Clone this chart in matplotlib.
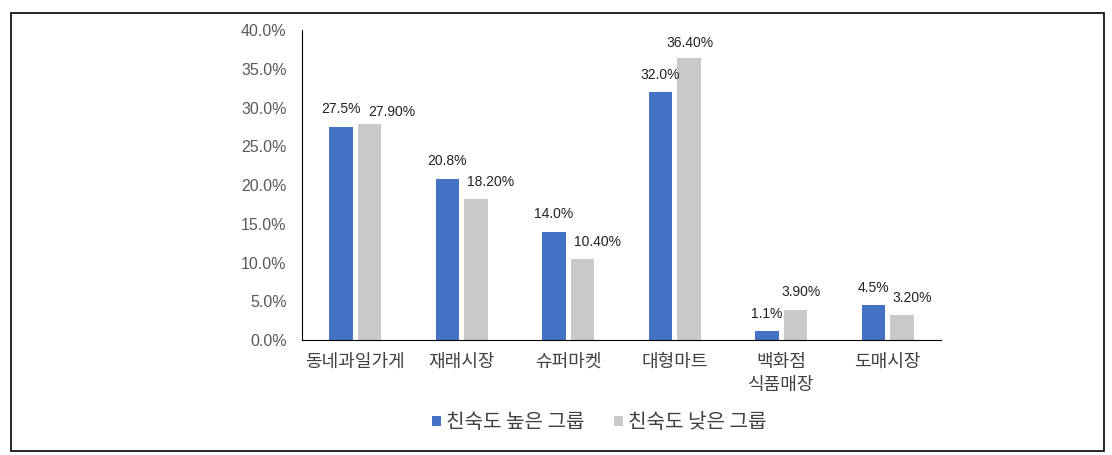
import matplotlib
matplotlib.use("Agg")
import matplotlib.pyplot as plt
from matplotlib.patches import Rectangle
from matplotlib.ticker import FuncFormatter
import numpy as np

plt.rcParams['font.family'] = ['Noto Sans CJK KR', 'DejaVu Sans']
NARROW = ['Liberation Sans Narrow', 'Liberation Sans', 'DejaVu Sans']

categories = ["동네과일가게", "재래시장", "슈퍼마켓", "대형마트", "백화점\n식품매장", "도매시장"]
high_group = [27.5, 20.8, 14.0, 32.0, 1.1, 4.5]
low_group = [27.9, 18.2, 10.4, 36.4, 3.9, 3.2]
series_names = ["친숙도 높은 그룹", "친숙도 낮은 그룹"]

# hand-placed label nudges of the gray series (x in category units, y in %)
low_dx = [0.21, 0.14, 0.14, 0.01, 0.05, 0.09]
low_dy = [-0.7, 0.0, 0.0, -0.3, 0.0, 0.0]

BLUE = "#4472C4"; GRAY = "#C9C9C9"; TXT = "#404040"

fig = plt.figure(figsize=(11.12, 4.55), dpi=100)
fig.patch.set_facecolor("white")
ax = fig.add_axes([0.2716, 0.2527, 0.5746, 0.6813])

x = np.arange(len(categories))
w = 0.22
b1 = ax.bar(x - 0.135, high_group, w, color=BLUE, label=series_names[0])
b2 = ax.bar(x + 0.135, low_group, w, color=GRAY, label=series_names[1])

for r, v in zip(b1, high_group):
    ax.text(r.get_x() + r.get_width() / 2, v + 2.25, f"{v:.1f}%", ha="center", va="center",
            fontsize=10, family=NARROW, color="#222222")
for r, v, dx, dy in zip(b2, low_group, low_dx, low_dy):
    ax.text(r.get_x() + r.get_width() / 2 + dx, v + 2.25 + dy, f"{v:.2f}%", ha="center", va="center",
            fontsize=10, family=NARROW, color="#222222")

ax.set_xlim(-0.5, len(categories) - 0.5)
ax.set_ylim(0, 40)
ax.set_yticks(np.arange(0, 40.1, 5))
ax.yaxis.set_major_formatter(FuncFormatter(lambda v, p: f"{v:.1f}%"))
ax.tick_params(axis="y", length=0, labelsize=11.5, labelcolor="#595959", pad=11)
for t in ax.get_yticklabels():
    t.set_family(NARROW)
ax.tick_params(axis="x", length=0, labelsize=13, labelcolor=TXT, pad=9)
ax.set_xticks(x)
ax.set_xticklabels(categories, linespacing=1.4)
for s in ["top", "right"]:
    ax.spines[s].set_visible(False)
ax.spines["left"].set_color("black")
ax.spines["bottom"].set_color("black")

fig.legend(handles=[b1, b2], labels=series_names, loc="center", bbox_to_anchor=(0.539, 0.071),
           ncol=2, frameon=False, fontsize=14.5, handlelength=0.42, handleheight=0.42,
           handletextpad=0.25, columnspacing=1.5, labelcolor=TXT)

fig.add_artist(Rectangle((0.0099, 0.0088), 0.9829, 0.9626, transform=fig.transFigure,
                         fill=False, edgecolor="black", lw=1.2))

fig.savefig("out.png", dpi=100, facecolor="white")
